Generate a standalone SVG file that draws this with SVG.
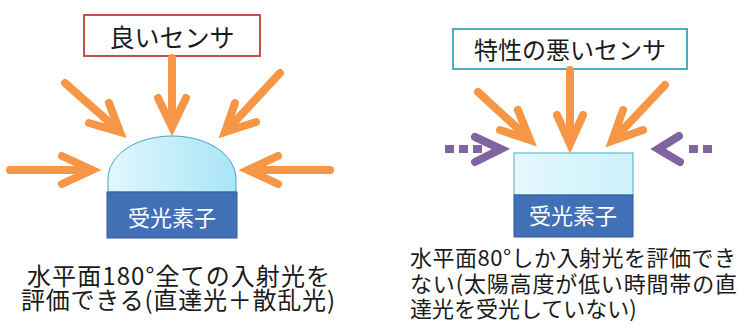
<svg xmlns="http://www.w3.org/2000/svg" width="740" height="323" viewBox="0 0 740 323">
<style>
.t{font-family:"Noto Sans CJK JP","Noto Sans",sans-serif;fill:#1a1a1a}
.w{font-family:"Noto Sans CJK JP","Noto Sans",sans-serif;fill:#ffffff;font-size:22px;text-anchor:middle}
.or{fill:none;stroke:#f79646;stroke-width:8;stroke-linecap:round;stroke-linejoin:miter}
.pu{fill:none;stroke:#8064a2;stroke-width:8;stroke-linejoin:miter;stroke-linecap:round}
.pd{fill:none;stroke:#8064a2;stroke-width:8;stroke-dasharray:9 5}
.base{fill:#4170b6;stroke:#2f5a96;stroke-width:1}
</style>
<defs>
<linearGradient id="g" x1="0" y1="0" x2="1" y2="0">
<stop offset="0" stop-color="#e2f7fd"/>
<stop offset="1" stop-color="#a9e4f6"/>
</linearGradient>
<linearGradient id="g2" x1="0" y1="0" x2="1" y2="0">
<stop offset="0" stop-color="#e4f8fd"/>
<stop offset="1" stop-color="#cdf1fb"/>
</linearGradient>
</defs>
<rect width="740" height="323" fill="#ffffff"/>

<g id="good-title">
<rect x="84" y="15" width="176" height="41" fill="#ffffff" stroke="#c0504d" stroke-width="2"/>
<text class="t" x="172" y="47" font-size="25" text-anchor="middle">良いセンサ</text>
</g>
<g id="good-sensor">
<path d="M108,192 L108,180 C108,152 140,136 172,136 C204,136 236,152 236,180 L236,192 Z" fill="url(#g)" stroke="#4aa3c0" stroke-width="1"/>
<rect class="base" x="107" y="192" width="130" height="46"/>
<text class="w" x="172" y="226">受光素子</text>
</g>
<g id="good-caption">
<text class="t" x="27" y="285" font-size="24" textLength="303" lengthAdjust="spacing">水平面180°全ての入射光を</text>
<text class="t" x="21" y="309" font-size="24" textLength="314" lengthAdjust="spacing">評価できる(直達光＋散乱光)</text>
</g>

<g id="bad-title">
<rect x="453" y="29" width="234" height="40" fill="#ffffff" stroke="#4bacc6" stroke-width="2"/>
<text class="t" x="570" y="59" font-size="24" text-anchor="middle">特性の悪いセンサ</text>
</g>
<g id="bad-sensor">
<rect x="514" y="153" width="119" height="42" fill="url(#g2)" stroke="#4bacc6" stroke-width="1"/>
<rect class="base" x="514" y="195" width="119" height="42"/>
<text class="w" x="573" y="224">受光素子</text>
</g>
<g id="bad-caption">
<text class="t" x="410" y="266" font-size="22" textLength="326" lengthAdjust="spacing">水平面80°しか入射光を評価でき</text>
<text class="t" x="410" y="292" font-size="22" textLength="327" lengthAdjust="spacing">ない(太陽高度が低い時間帯の直</text>
<text class="t" x="410" y="317" font-size="22">達光を受光していない)</text>
</g>

<g id="connectors">
<!-- left sensor: orange arrows -->
<line class="or" x1="172" y1="58" x2="172" y2="125"/>
<polyline class="or" points="158,98 172,127 186,98"/>
<line class="or" x1="65" y1="83" x2="117" y2="129"/>
<polyline class="or" points="109,103 120,132 89,123"/>
<line class="or" x1="280" y1="73" x2="228" y2="129"/>
<polyline class="or" points="235,103 225,132 256,122"/>
<line class="or" x1="10" y1="170" x2="89" y2="170"/>
<polyline class="or" points="62,156 92,170 62,184"/>
<line class="or" x1="330" y1="170" x2="251" y2="170"/>
<polyline class="or" points="278,156 248,170 278,184"/>
<!-- right sensor: orange arrows -->
<line class="or" x1="570" y1="70" x2="570" y2="141"/>
<polyline class="or" points="557,115 570,144 583,115"/>
<line class="or" x1="478" y1="92" x2="527" y2="137"/>
<polyline class="or" points="518,110 530,140 500,130"/>
<line class="or" x1="665" y1="85" x2="615" y2="138"/>
<polyline class="or" points="623,110 612,141 643,130"/>
<!-- right sensor: purple dotted arrows -->
<line class="pd" x1="445" y1="149" x2="484" y2="149"/>
<polyline class="pu" points="475,137 501,149 475,162"/>
<line class="pd" x1="712" y1="149" x2="684" y2="149"/>
<polyline class="pu" points="679,136 658,149 680,162"/>
</g>
</svg>
